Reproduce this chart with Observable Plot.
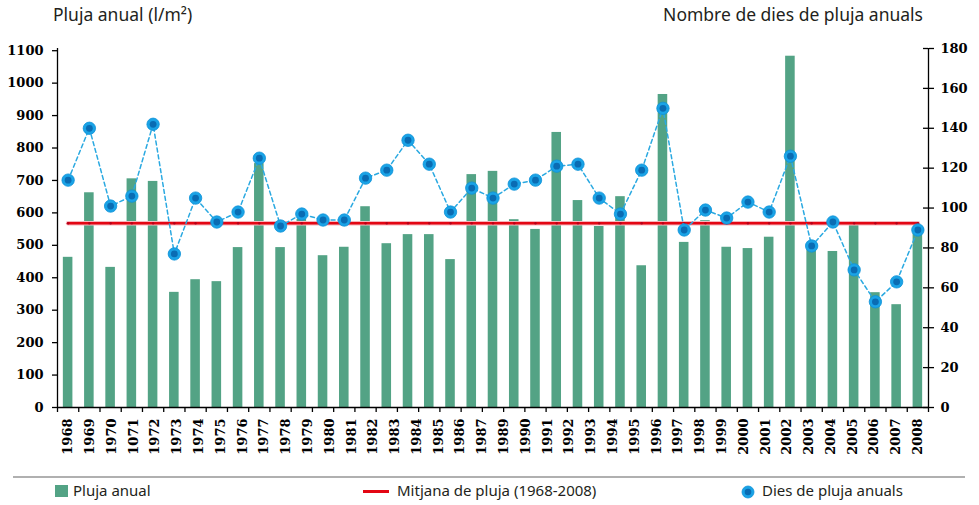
<!DOCTYPE html>
<html><head><meta charset="utf-8">
<script src="https://cdn.jsdelivr.net/npm/d3@7"></script>
<script src="https://cdn.jsdelivr.net/npm/@observablehq/plot@0.6"></script>
<style>
body{margin:0;background:#fff;}
#wrap{position:relative;width:979px;height:505px;font-family:"Noto Sans",sans-serif;color:#231f20;overflow:hidden;background:#fff;}
.t{position:absolute;font-size:17.5px;line-height:18px;white-space:nowrap;}
#chart{position:absolute;left:0;top:36px;}
.lg{position:absolute;font-size:15px;line-height:15px;white-space:nowrap;}
</style></head><body>
<div id="wrap">
  <div class="t" style="left:53px;top:5px">Pluja anual (l/m²)</div>
  <div class="t" style="right:56px;top:5px">Nombre de dies de pluja anuals</div>
  <div id="chart"></div>
  <div style="position:absolute;left:13px;top:476px;width:952px;height:1.5px;background:#b0b0b0"></div>
  <div style="position:absolute;left:55px;top:485px;width:13px;height:12px;background:#53a385"></div>
  <div class="lg" style="left:73px;top:483px">Pluja anual</div>
  <div style="position:absolute;left:363px;top:489.5px;width:26px;height:3px;background:#e30613"></div>
  <div class="lg" style="left:397px;top:483px">Mitjana de pluja (1968-2008)</div>
  <svg style="position:absolute;left:740px;top:484px" width="16" height="16"><circle cx="8" cy="8" r="6" fill="#1aa3e6" stroke="#0e92d8" stroke-width="0.8"/><circle cx="8" cy="8" r="3.3" fill="#0a6cb3"/></svg>
  <div class="lg" style="left:762px;top:483px">Dies de pluja anuals</div>
</div>
<script>
// ---- data ----
const years = [1968,1969,1970,1971,1972,1973,1974,1975,1976,1977,1978,1979,1980,1981,1982,1983,1984,1985,1986,1987,1988,1989,1990,1991,1992,1993,1994,1995,1996,1997,1998,1999,2000,2001,2002,2003,2004,2005,2006,2007,2008];
const rain = [463,662,432,705,697,355,394,388,493,752,493,580,468,494,619,505,533,533,456,718,728,579,549,848,638,558,650,437,965,509,576,494,490,525,1083,497,481,567,354,317,540];
const days = [114,140,101,106,142,77,105,93,98,125,91,97,94,94,115,119,134,122,98,110,105,112,114,121,122,105,97,119,150,89,99,95,103,98,126,81,93,69,53,63,89];
const meanRain = 568;
const tickLabels = ["1968","1969","1970","1071","1972","1973","1974","1975","1976","1977","1978","1979","1980","1981","1982","1983","1984","1985","1986","1987","1989","1990","1991","1992","1993","1994","1995","1996","1997","1998","1999","2000","2001","2002","2003","2004","2005","2006","2007","2008"];
const leftTicks = [0,100,200,300,400,500,600,700,800,900,1000,1100];
const rightTicks = [0,20,40,60,80,100,120,140,160,180];
const leftMax = 1106.8;   // left-axis value at the top of the plot
const rightMax = 180;     // right-axis value at the same height

// ---- derived ----
const K = leftMax / rightMax;
const n = years.length;
const rows = years.map((y, i) => ({i, year: y, rain: rain[i], days: days[i]}));
const xMin = -0.5, xMax = n - 0.5;
const boundaries = d3.range(n + 1).map(k => k - 0.5);
const labelPos = tickLabels.map((_, j) => j * (n - 1) / (tickLabels.length - 1));
const pxPerUnit = (979 - 57 - 51) / n;

const GREEN = "#53a385";
const chart = Plot.plot({
  width: 979,
  height: 431,
  marginLeft: 57,
  marginRight: 51,
  marginTop: 12,
  marginBottom: 60,
  style: {fontFamily: "'DejaVu Serif', serif", fontWeight: "bold", fontSize: "13px", color: "#000", background: "transparent"},
  x: {domain: [xMin, xMax], axis: null},
  y: {domain: [0, leftMax], axis: null},
  marks: [
    Plot.rectY(rows, {x1: d => d.i - 0.225, x2: d => d.i + 0.225, y: "rain", fill: GREEN}),
    Plot.line(rows, {x: "i", y: () => meanRain, stroke: "#f5b5bc", strokeWidth: 4.5}),
    Plot.line(rows, {x: "i", y: () => meanRain, stroke: "#e30613", strokeWidth: 2.6}),
    Plot.dot(rows, {x: "i", y: () => meanRain, r: 1.2, fill: "#b3001a"}),
    Plot.line(rows, {x: "i", y: d => d.days * K, stroke: "#2aa9e1", strokeWidth: 1.5, strokeDasharray: "4,3"}),
    Plot.dot(rows, {x: "i", y: d => d.days * K, r: 6.2, fill: "#1aa3e6", stroke: "#0e92d8", strokeWidth: 0.8}),
    Plot.dot(rows, {x: "i", y: d => d.days * K, r: 3.4, fill: "#0a6cb3"}),
    // axes
    Plot.ruleY([0], {stroke: "#000", strokeWidth: 1.3}),
    Plot.ruleX([xMin], {stroke: "#000", strokeWidth: 1.3}),
    Plot.ruleX([xMax], {stroke: "#000", strokeWidth: 1.3}),
    Plot.axisY(leftTicks, {anchor: "left", tickSize: 5, tickPadding: 9, label: null, strokeWidth: 1.3, tickFormat: v => String(v)}),
    Plot.axisY(rightTicks.map(v => v * K), {anchor: "right", tickSize: 5, tickPadding: 7, label: null, strokeWidth: 1.3, tickFormat: v => String(Math.round(v / K))}),
    Plot.ruleY(rightTicks.map(v => v * K), {x1: xMax - 5 / pxPerUnit, x2: xMax, stroke: "#000", strokeWidth: 1.3}),
    Plot.axisX(boundaries, {anchor: "bottom", tickSize: 5, label: null, strokeWidth: 1.3, tickFormat: () => ""}),
    Plot.axisX(labelPos, {anchor: "bottom", tickSize: 0, tickRotate: -90, tickPadding: 11, label: null, tickFormat: d => tickLabels[Math.round(d * (tickLabels.length - 1) / (n - 1))]})
  ]
});
document.getElementById("chart").appendChild(chart);
</script>
</body></html>
